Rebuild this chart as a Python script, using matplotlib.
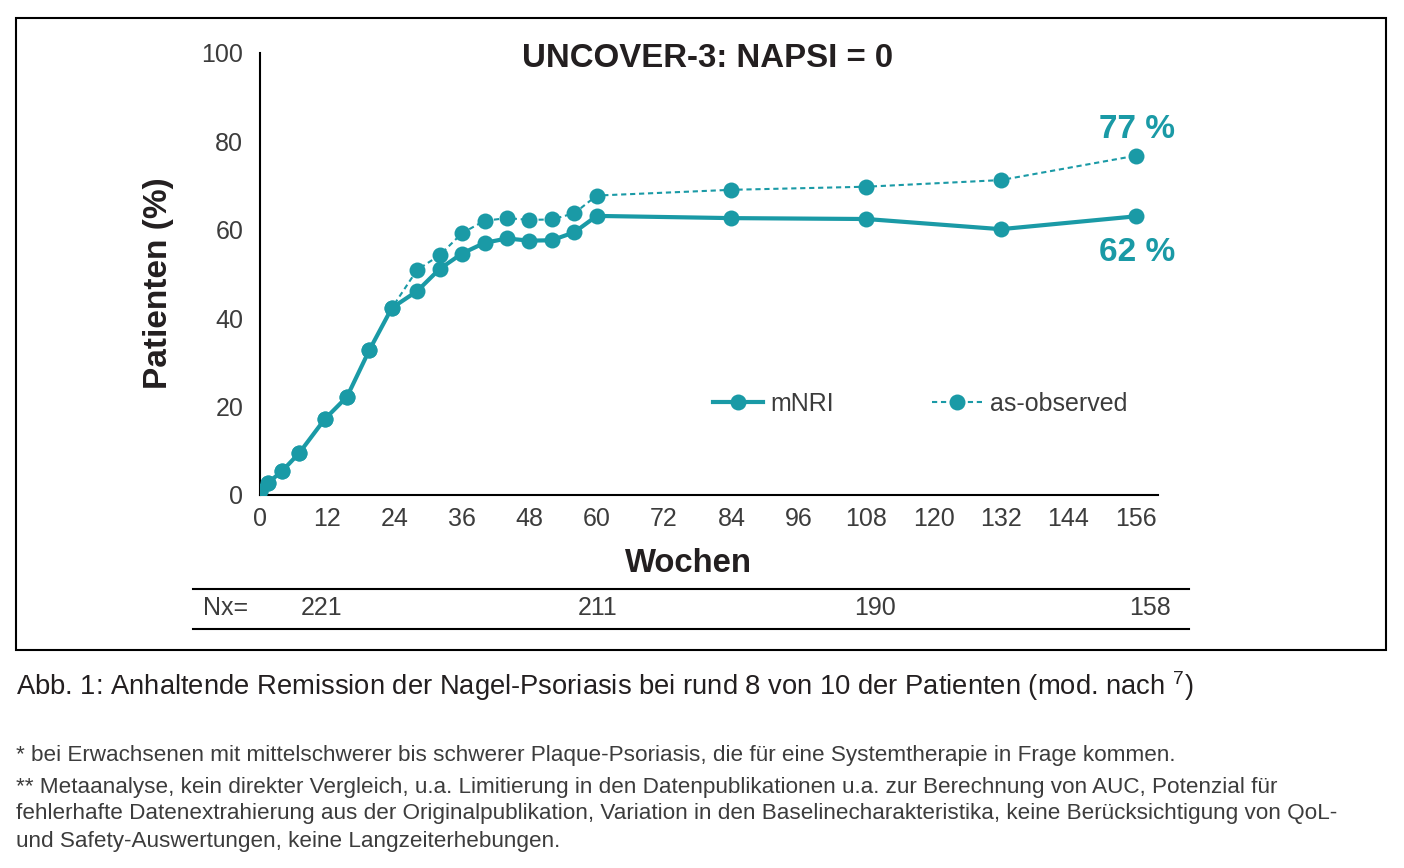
import numpy as np
import matplotlib
matplotlib.use("Agg")
import matplotlib.pyplot as plt
from matplotlib.patches import Rectangle
from matplotlib.lines import Line2D

plt.rcParams['font.family'] = ['Liberation Sans', 'DejaVu Sans']
plt.rcParams['mathtext.fontset'] = 'custom'
plt.rcParams['mathtext.rm'] = 'Liberation Sans'

# Daten
wochen = [0, 1.5, 4, 7, 11.5, 15.5, 19.5, 23.5, 28, 32, 36, 40, 44, 48, 52, 56, 60, 84, 108, 132, 156]
mnri = [0.9, 2.8, 5.5, 9.5, 17.1, 22.2, 32.8, 42.3, 46.1, 51.1, 54.6, 57.0, 58.0, 57.5, 57.6, 59.4,
        63.1, 62.6, 62.4, 60.1, 63.0]
as_observed = mnri[:8] + [50.9, 54.2, 59.2, 62.0, 62.6, 62.2, 62.3, 63.7, 67.7, 69.0, 69.7, 71.2, 76.7]
xticks = list(range(0, 157, 12))
yticks = [0, 20, 40, 60, 80, 100]
nx_werte = ['221', '211', '190', '158']
nx_pos = [322, 598, 875, 1150]  # px

teal = '#1a9aa6'
dunkel = '#231f20'
grau = '#3c3c3c'

W, H = 1404, 868
fig = plt.figure(figsize=(W / 100, H / 100), dpi=100)

def fx(px):
    return px / W

def fy(py):
    return (H - py) / H

ax = fig.add_axes([fx(260), fy(495), fx(1158) - fx(260), fy(52.7) - fy(495)])

ax.plot(wochen, as_observed, color=teal, lw=1.5, dashes=(2.5, 1.8), marker='o', ms=11.5,
        mew=0, label='as-observed', zorder=2)
ax.plot(wochen, mnri, color=teal, lw=3, marker='o', ms=11.5, mew=0, label='mNRI', zorder=3)

ax.set_xlim(0, 160)
ax.set_ylim(0, 100)
ax.set_xticks(xticks)
ax.set_yticks(yticks)
ax.tick_params(length=0, labelsize=18, colors=grau)
ax.tick_params(axis='x', pad=9)
ax.tick_params(axis='y', pad=12)
for s in ['top', 'right']:
    ax.spines[s].set_visible(False)
for s in ['left', 'bottom']:
    ax.spines[s].set_linewidth(1.5)
    ax.spines[s].set_color('black')

ax.text(0.498, 0.988, 'UNCOVER-3: NAPSI = 0', transform=ax.transAxes, ha='center', va='center',
        fontsize=23.8, fontweight='bold', color=dunkel)

ax.annotate('77 %', xy=(wochen[-1], as_observed[-1]), xytext=(1, 19), textcoords='offset points',
            ha='center', va='center', fontsize=24, fontweight='bold', color=teal)
ax.annotate('62 %', xy=(wochen[-1], mnri[-1]), xytext=(1, -26), textcoords='offset points',
            ha='center', va='center', fontsize=24, fontweight='bold', color=teal)

h1 = Line2D([], [], color=teal, lw=3, marker='o', ms=11.5, mew=0)
h2 = Line2D([], [], color=teal, lw=1.5, dashes=(2.5, 1.8), marker='o', ms=11.5, mew=0)
leg = ax.legend([h1, h2], ['mNRI', 'as-observed'], loc='center', bbox_to_anchor=(0.735, 0.206),
                ncol=2, frameon=False, fontsize=18, handlelength=2.0, handletextpad=0.32,
                columnspacing=3.9)
for t in leg.get_texts():
    t.set_color(grau)

fig.text(fx(158), fy(283), 'Patienten (%)', rotation=90, ha='center', va='center',
         fontsize=24, fontweight='bold', color=dunkel)
fig.text(fx(688), fy(563), 'Wochen', ha='center', va='center', fontsize=23.7,
         fontweight='bold', color=dunkel)

# Nx-Tabelle
for py in [589, 629]:
    fig.add_artist(Line2D([fx(193), fx(1189)], [fy(py), fy(py)], color='black', lw=1.5))
fig.text(fx(203), fy(608), 'Nx=', ha='left', va='center', fontsize=18, color=grau)
for px, n in zip(nx_pos, nx_werte):
    fig.text(fx(px), fy(608), n, ha='center', va='center', fontsize=18, color=grau)

# Rahmen
fig.add_artist(Rectangle((fx(16), fy(650)), fx(1386) - fx(16), fy(18) - fy(650),
                         transform=fig.transFigure, fill=False, ec='black', lw=1.5))

fig.text(fx(16), fy(686), 'Abb. 1: Anhaltende Remission der Nagel-Psoriasis bei rund 8 von 10 der '
         'Patienten (mod. nach $^{7}$)', ha='left', va='center', fontsize=19.7, color=dunkel)

fussnoten = [
    '* bei Erwachsenen mit mittelschwerer bis schwerer Plaque-Psoriasis, die für eine Systemtherapie in Frage kommen.',
    '** Metaanalyse, kein direkter Vergleich, u.a. Limitierung in den Datenpublikationen u.a. zur Berechnung von AUC, Potenzial für',
    'fehlerhafte Datenextrahierung aus der Originalpublikation, Variation in den Baselinecharakteristika, keine Berücksichtigung von QoL-',
    'und Safety-Auswertungen, keine Langzeiterhebungen.',
]
for py, t in zip([755, 787, 814, 842], fussnoten):
    fig.text(fx(16), fy(py), t, ha='left', va='center', fontsize=16.2, color=grau)

fig.savefig('out.png', dpi=100)
